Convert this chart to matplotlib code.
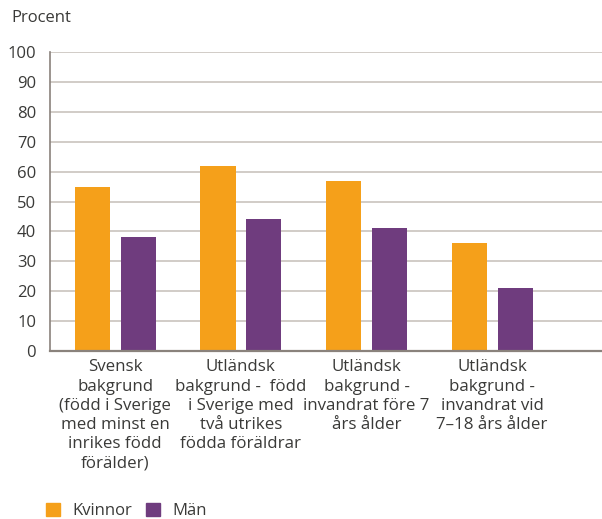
import matplotlib
matplotlib.use("Agg")
import matplotlib.pyplot as plt
import numpy as np
from matplotlib.patches import Patch

categories = [
    "Svensk\nbakgrund\n(född i Sverige\nmed minst en\ninrikes född\nförälder)",
    "Utländsk\nbakgrund -  född\ni Sverige med\ntvå utrikes\nfödda föräldrar",
    "Utländsk\nbakgrund -\ninvandrat före 7\nårs ålder",
    "Utländsk\nbakgrund -\ninvandrat vid\n7–18 års ålder",
]
kvinnor = [55, 62, 57, 36]
man = [38, 44, 41, 21]
yticks = list(range(0, 101, 10))
series_names = ["Kvinnor", "Män"]

ORANGE = "#F5A01A"
PURPLE = "#6F3C7E"
TEXT = "#3a3a38"
GRID = "#c9c3be"
AXIS = "#8a827c"

plt.rcParams["font.family"] = ["Open Sans", "DejaVu Sans"]

fig = plt.figure(figsize=(6.02, 5.19), dpi=100)
ax = fig.add_axes([50/602, (519-351)/519, 552/602, 299/519])

x = np.arange(len(categories))
w = 0.28
off = 0.183
ax.bar(x - off, kvinnor, w, color=ORANGE, zorder=3)
ax.bar(x + off, man, w, color=PURPLE, zorder=3)

ax.set_ylim(0, 100)
ax.set_yticks(yticks)
ax.set_xlim(-0.52, 3.875)
ax.set_xticks(x)
ax.set_xticklabels(categories, fontsize=12.2, color=TEXT, linespacing=1.27)
ax.tick_params(axis="x", length=0, pad=6)
ax.tick_params(axis="y", length=0, pad=10, labelsize=12, labelcolor=TEXT)
ax.yaxis.grid(True, color=GRID, linewidth=1.2, zorder=0)
for s in ["top", "right"]:
    ax.spines[s].set_visible(False)
ax.spines["left"].set_color(AXIS)
ax.spines["left"].set_linewidth(1.2)
ax.spines["bottom"].set_color(AXIS)
ax.spines["bottom"].set_linewidth(1.6)
ax.spines["bottom"].set_zorder(4)

fig.text(11/602, 1 - 18/519, "Procent", fontsize=12, color=TEXT, va="center", ha="left")

handles = [Patch(color=ORANGE), Patch(color=PURPLE)]
fig.legend(handles, series_names, loc="center left", bbox_to_anchor=(31/602, 1 - 511/519),
           ncol=2, frameon=False, fontsize=12, handlelength=0.85, handleheight=0.85,
           handletextpad=0.75, columnspacing=0.8, labelcolor=TEXT)

fig.savefig("out.png", dpi=100)
